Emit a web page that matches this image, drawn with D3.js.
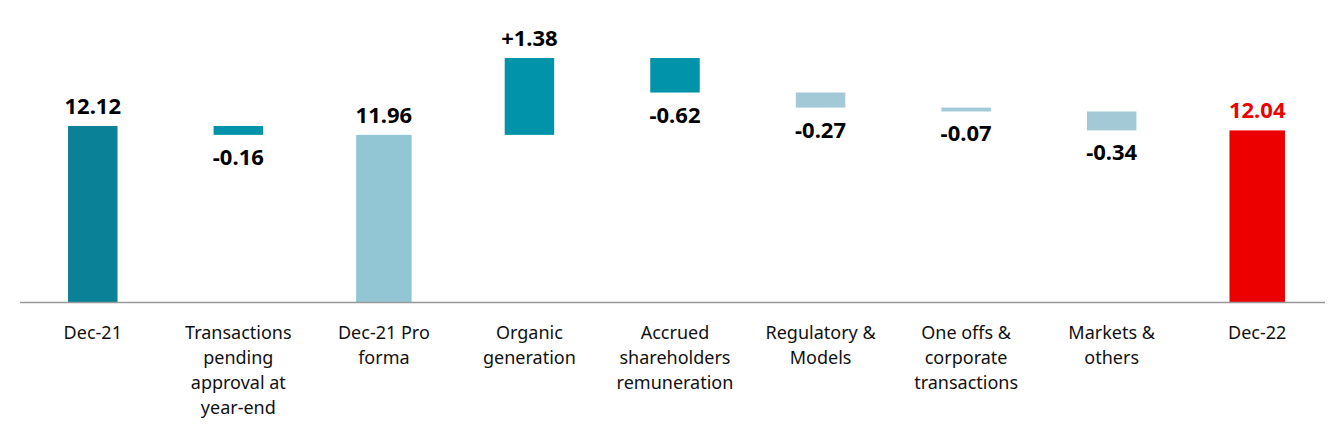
<!DOCTYPE html>
<html><head><meta charset="utf-8">
<script src="https://cdn.jsdelivr.net/npm/d3@7"></script>
<style>body{margin:0;background:#fff}text{font-family:"Noto Sans",sans-serif}</style>
</head><body><svg id="c" width="1340" height="440"></svg>
<script>
const categories=[["Dec-21"],["Transactions","pending","approval at","year-end"],["Dec-21 Pro","forma"],["Organic","generation"],["Accrued","shareholders","remuneration"],["Regulatory &","Models"],["One offs &","corporate","transactions"],["Markets &","others"],["Dec-22"]];
const values=[12.12,-0.16,11.96,1.38,-0.62,-0.27,-0.07,-0.34,12.04];
const types=["total","delta","total","delta","delta","delta","delta","delta","total"];
const labels=["12.12","-0.16","11.96","+1.38","-0.62","-0.27","-0.07","-0.34","12.04"];
const colors=["#0a8196","#0093a9","#93c6d4","#0093a9","#0093a9","#a3c9d6","#a3c9d6","#a3c9d6","#ec0000"];
const labelColors=["#000","#000","#000","#000","#000","#000","#000","#000","#ec0000"];

const svg=d3.select("#c");
const x=d3.scaleBand().domain(d3.range(9)).range([20,1330]).paddingInner(0.66).paddingOuter(0.33);
const y=d3.scaleLinear().domain([8.96,13.34]).range([302,58]);
let run=0;const bars=values.map((v,i)=>{let a,b;
 if(types[i]==="total"){a=y.domain()[0];b=v;run=v;}else{a=run;b=run+v;run=b;}
 return {i,lo:Math.min(a,b),hi:Math.max(a,b),neg:v<0&&types[i]!=="total"};});
const bw=x.bandwidth();
svg.selectAll("rect").data(bars).enter().append("rect")
 .attr("x",d=>x(d.i)+(types[d.i]==="total"&&d.i>0?-3:0)).attr("width",d=>bw+(types[d.i]==="total"&&d.i>0?6:0))
 .attr("y",d=>y(d.hi)).attr("height",d=>Math.max(1,y(d.lo)-y(d.hi))).attr("fill",d=>colors[d.i]);
svg.append("line").attr("x1",20).attr("x2",1325).attr("y1",302.5).attr("y2",302.5).attr("stroke","#999").attr("stroke-width",1.5);
svg.selectAll(".v").data(bars).enter().append("text").attr("text-anchor","middle")
 .attr("x",d=>x(d.i)+bw/2).attr("y",d=>d.neg?y(d.lo)+30:y(d.hi)-12)
 .attr("font-size",22).attr("font-weight","bold").attr("fill",d=>labelColors[d.i]).text(d=>labels[d.i]);
categories.forEach((lines,i)=>{const t=svg.append("text").attr("text-anchor","middle").attr("font-size",18).attr("fill","#111");
 lines.forEach((l,k)=>t.append("tspan").attr("x",x(i)+bw/2).attr("y",339+k*25).text(l));});
</script></body></html>
